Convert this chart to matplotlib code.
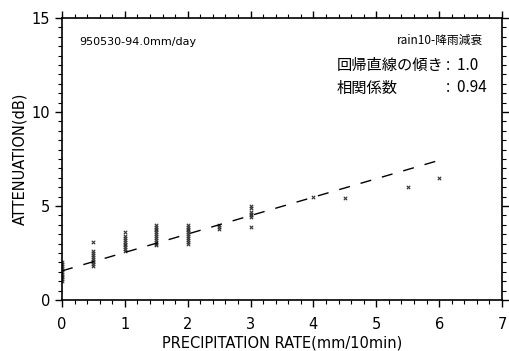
import numpy as np
import matplotlib
matplotlib.use("Agg")
import matplotlib.pyplot as plt
from matplotlib.ticker import MultipleLocator

# observed points (precipitation rate, attenuation)
rate_vals = [0.0] * 11 + [0.5] * 10 + [1.0] * 10 + [1.5] * 12 + [2.0] * 11 \
    + [2.5] * 3 + [3.0] * 7 + [4.0, 4.5, 5.5, 6.0]
atten_vals = [1.0, 1.1, 1.2, 1.3, 1.4, 1.5, 1.6, 1.7, 1.8, 1.9, 2.0,
              1.8, 1.9, 2.0, 2.1, 2.2, 2.3, 2.4, 2.5, 2.6, 3.1,
              2.6, 2.7, 2.8, 2.9, 3.0, 3.1, 3.2, 3.3, 3.4, 3.6,
              2.9, 3.0, 3.1, 3.2, 3.3, 3.4, 3.5, 3.6, 3.7, 3.8, 3.9, 4.0,
              3.0, 3.1, 3.2, 3.3, 3.4, 3.5, 3.6, 3.7, 3.8, 3.9, 4.0,
              3.8, 3.9, 4.0,
              3.9, 4.4, 4.5, 4.6, 4.7, 4.9, 5.0,
              5.5, 5.45, 6.0, 6.5]

# regression line
fit_x = [0.0, 6.0]
fit_slope = 0.98
fit_icpt = 1.55

x_ticks = [0, 1, 2, 3, 4, 5, 6, 7]
y_ticks = [0, 5, 10, 15]

plt.rcParams['font.family'] = ['DejaVu Sans']
jp = ['Noto Sans CJK JP', 'DejaVu Sans']

fig = plt.figure(figsize=(5.09, 3.51), dpi=100)
ax = fig.add_axes([62 / 509, 1 - 300 / 351, 440 / 509, 282 / 351])

ax.scatter(rate_vals, atten_vals, marker='x', s=6, c='#333333', linewidths=0.8)
fx = np.array(fit_x)
ax.plot(fx, fit_icpt + fit_slope * fx, color='black', lw=1.0, dashes=(8, 8))

ax.set_xlim(0, 7)
ax.set_ylim(0, 15)
ax.set_xticks(x_ticks)
ax.set_yticks(y_ticks)
ax.xaxis.set_minor_locator(MultipleLocator(0.2))
ax.yaxis.set_minor_locator(MultipleLocator(0.5))
ax.tick_params(which='both', direction='out', top=True, right=True,
               labelsize=10.5, colors='black')
ax.tick_params(which='major', length=5, width=1)
ax.tick_params(which='minor', length=3, width=0.8)
ax.tick_params(axis='x', which='major', pad=7)
for s in ax.spines.values():
    s.set_linewidth(1.2)

ax.set_xlabel('PRECIPITATION RATE(mm/10min)', fontsize=10.5, labelpad=3)
ax.set_ylabel('ATTENUATION(dB)', fontsize=10.5, labelpad=3)

ax.text(0.04, 0.915, '950530-94.0mm/day', transform=ax.transAxes,
        fontsize=8, ha='left', va='center')
ax.text(0.957, 0.922, 'rain10-降雨減衰', transform=ax.transAxes,
        fontsize=8.5, ha='right', va='center', family=jp)
ax.text(0.625, 0.833, '回帰直線の傾き', transform=ax.transAxes,
        fontsize=11, ha='left', va='center', family=jp)
ax.text(0.873, 0.833, ':  1.0', transform=ax.transAxes,
        fontsize=11, ha='left', va='center', family=jp)
ax.text(0.625, 0.752, '相関係数', transform=ax.transAxes,
        fontsize=11, ha='left', va='center', family=jp)
ax.text(0.873, 0.752, ':  0.94', transform=ax.transAxes,
        fontsize=11, ha='left', va='center', family=jp)

fig.savefig('out.png', dpi=100)
